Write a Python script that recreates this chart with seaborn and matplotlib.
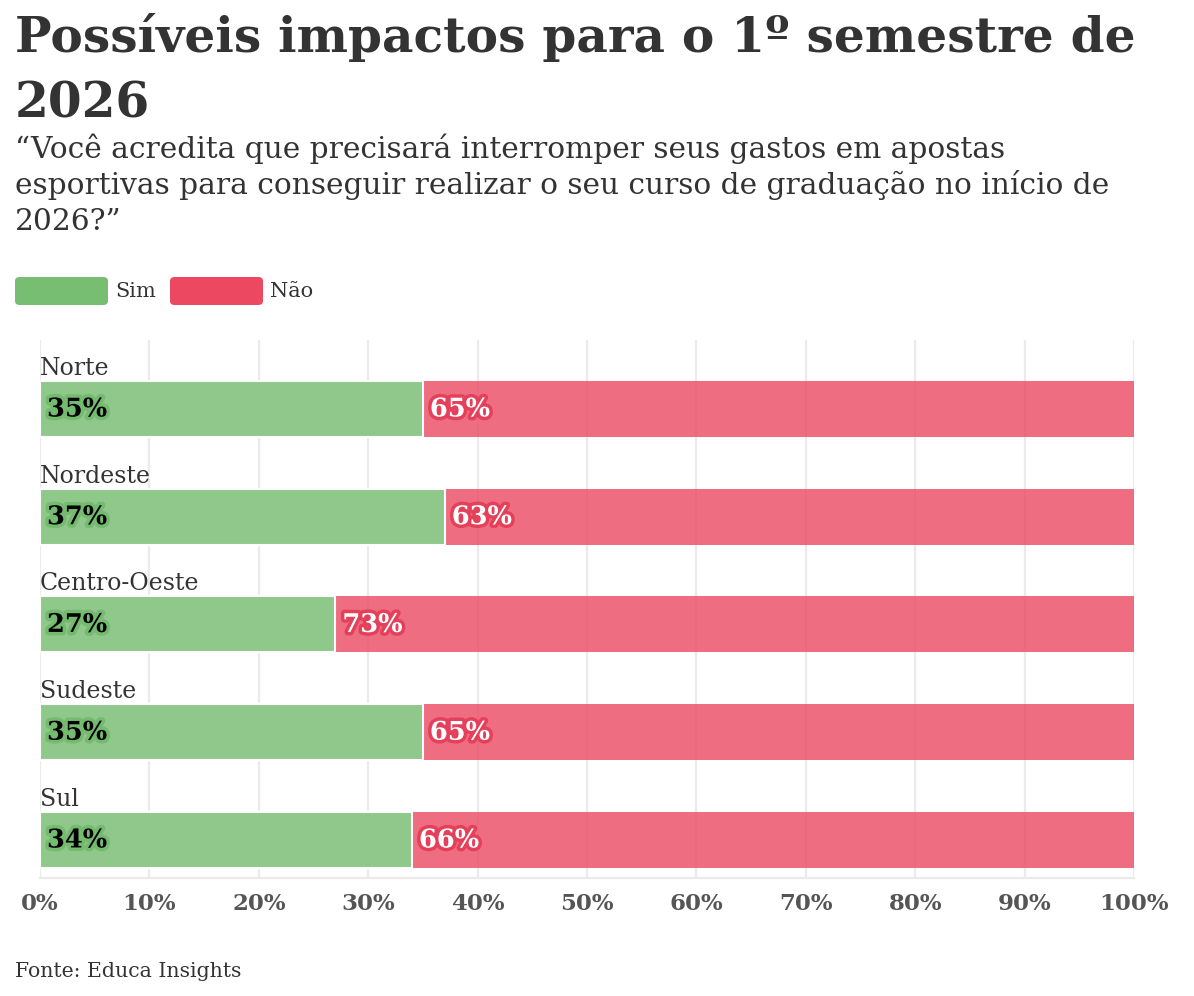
import matplotlib
matplotlib.use("Agg")
import matplotlib.pyplot as plt
import matplotlib.patheffects as pe
from matplotlib.patches import FancyBboxPatch
import seaborn as sns
import pandas as pd

regioes = ["Norte", "Nordeste", "Centro-Oeste", "Sudeste", "Sul"]
sim = [35, 37, 27, 35, 34]
nao = [65, 63, 73, 65, 66]
ticks = [0, 10, 20, 30, 40, 50, 60, 70, 80, 90, 100]

titulo = ["Possíveis impactos para o 1º semestre de", "2026"]
subtitulo = [
    "“Você acredita que precisará interromper seus gastos em apostas",
    "esportivas para conseguir realizar o seu curso de graduação no início de",
    "2026?”",
]
fonte = "Fonte: Educa Insights"

VERDE = "#77bd72"
VERMELHO = "#ec4862"
VERDE_BARRA = "#90c78b"  # verde a 80% sobre branco

sns.set_theme(style="white")
plt.rcParams["font.family"] = ["DejaVu Serif"]

W, H = 1194, 996
fig = plt.figure(figsize=(W / 100, H / 100), dpi=100)


def fx(px):
    return px / W


def fy(py):
    return 1 - py / H


ax = fig.add_axes([fx(40), fy(878), fx(1134) - fx(40), fy(340) - fy(878)])

df = pd.DataFrame({"regiao": regioes, "sim": sim, "nao": nao})
df["total"] = df["sim"] + df["nao"]

sns.barplot(data=df, y="regiao", x="total", color=VERMELHO, alpha=0.8,
            saturation=1, width=0.52, orient="h", ax=ax, linewidth=0,
            zorder=2)
sns.barplot(data=df, y="regiao", x="sim", color=VERDE_BARRA,
            saturation=1, width=0.52, orient="h", ax=ax, edgecolor="white",
            linewidth=1.5, zorder=3)

ax.set_xlim(0, 100)
ax.set_ylim(4.353, -0.64)
ax.set_xticks(ticks)
ax.set_xticklabels([f"{t}%" for t in ticks], fontsize=16.5, fontweight="bold",
                   color="#555555")
ax.tick_params(axis="x", length=5, width=1.5, color="#ebebeb", pad=6)
ax.set_yticks([])
ax.set_xlabel("")
ax.set_ylabel("")
ax.grid(axis="x", color="#ebebeb", linewidth=1.6, zorder=0)
ax.set_axisbelow(True)
for s in ["top", "right", "left"]:
    ax.spines[s].set_visible(False)
ax.spines["bottom"].set_color("#ebebeb")
ax.spines["bottom"].set_linewidth(1.6)

for i, reg in enumerate(regioes):
    ax.text(0, i - 0.26 - 0.056, reg, fontsize=17, color="#333333",
            va="baseline", ha="left")
    ax.annotate(f"{sim[i]}%", (0, i), xytext=(7, 0), textcoords="offset pixels",
                va="center", ha="left", fontsize=18.5, fontweight="bold",
                color="black",
                path_effects=[pe.withStroke(linewidth=5, foreground="#74bb6f")])
    ax.annotate(f"{nao[i]}%", (sim[i], i), xytext=(7, 0),
                textcoords="offset pixels", va="center", ha="left",
                fontsize=18.5, fontweight="bold", color="white",
                path_effects=[pe.withStroke(linewidth=5, foreground="#e5405a")])

# titulo e subtitulo
fig.text(fx(15), fy(52), titulo[0], fontsize=35, fontweight="bold",
         color="#333333", va="baseline", ha="left")
fig.text(fx(15), fy(117), titulo[1], fontsize=35, fontweight="bold",
         color="#333333", va="baseline", ha="left")
for k, linha in enumerate(subtitulo):
    fig.text(fx(15), fy(158 + 36 * k), linha, fontsize=21.3, color="#333333",
             va="baseline", ha="left")

# legenda
for x0, cor, rot in [(15, VERDE, "Sim"), (170, VERMELHO, "Não")]:
    fig.patches.append(FancyBboxPatch(
        (fx(x0), fy(305)), fx(93), fy(277) - fy(305),
        boxstyle="round,pad=0,rounding_size=0.004", transform=fig.transFigure,
        facecolor=cor, edgecolor="none"))
    fig.text(fx(x0 + 100), fy(291), rot, fontsize=15, color="#333333",
             va="center", ha="left")

fig.text(fx(15), fy(977), fonte, fontsize=14.7, color="#333333",
         va="baseline", ha="left")

fig.savefig("out.png", dpi=100)
